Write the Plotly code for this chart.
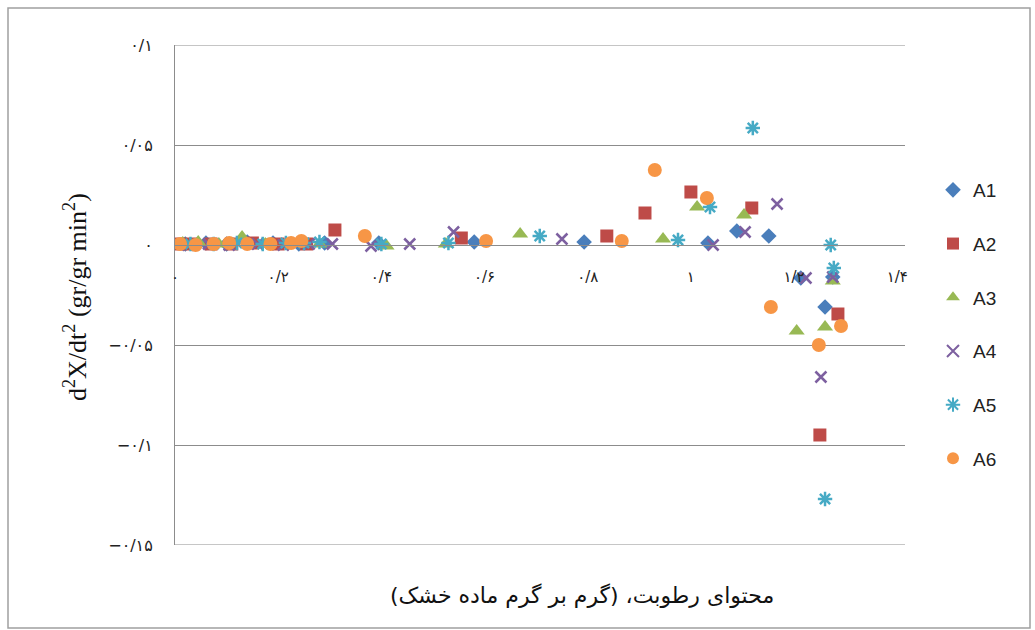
import plotly.graph_objects as go

# ---------------- data ----------------
series_names = ["A1", "A2", "A3", "A4", "A5", "A6"]

a1_x = [0.02, 0.06, 0.10, 0.14, 0.19, 0.24, 0.29, 0.395, 0.58, 0.793, 1.033, 1.089, 1.151, 1.213, 1.26, 1.275]
a1_y = [0.0005, 0.001, 0.0005, 0.0015, 0.001, 0.0005, 0.001, 0.001, 0.0015, 0.0015, 0.001, 0.007, 0.0045, -0.0165, -0.031, -0.016]

a2_x = [0.01, 0.035, 0.07, 0.11, 0.15, 0.2, 0.255, 0.31, 0.555, 0.837, 0.911, 1.0, 1.118, 1.25, 1.285]
a2_y = [0.0005, 0.0005, 0.0005, 0.0005, 0.001, 0.0005, 0.0005, 0.0075, 0.0035, 0.0045, 0.016, 0.0265, 0.0185, -0.095, -0.0345]

a3_x = [0.015, 0.045, 0.085, 0.13, 0.175, 0.225, 0.28, 0.41, 0.525, 0.669, 0.946, 1.012, 1.103, 1.205, 1.26, 1.275]
a3_y = [0.001, 0.0015, 0.0005, 0.004, 0.0005, 0.001, 0.0005, -0.0005, 0.0005, 0.0055, 0.003, 0.019, 0.015, -0.043, -0.041, -0.018]

a4_x = [0.025, 0.065, 0.105, 0.16, 0.21, 0.26, 0.305, 0.38, 0.455, 0.54, 0.75, 1.043, 1.105, 1.167, 1.223, 1.275, 1.252]
a4_y = [0.0, 0.0005, 0.0, 0.0005, 0.0, 0.0005, 0.0005, -0.0005, 0.0005, 0.0065, 0.003, 0.0, 0.0065, 0.0205, -0.0165, -0.016, -0.066]

a5_x = [0.03, 0.075, 0.12, 0.17, 0.215, 0.25, 0.28, 0.4, 0.53, 0.707, 0.975, 1.037, 1.12, 1.271, 1.277, 1.26]
a5_y = [0.0005, 0.0005, 0.001, 0.0005, 0.001, 0.001, 0.0015, 0.0005, 0.001, 0.0045, 0.0025, 0.019, 0.0585, 0.0, -0.0115, -0.127]

a6_x = [0.01, 0.04, 0.075, 0.105, 0.14, 0.185, 0.225, 0.245, 0.368, 0.603, 0.866, 0.93, 1.031, 1.155, 1.248, 1.291]
a6_y = [0.0005, 0.0, 0.0005, 0.001, 0.0005, 0.0005, 0.001, 0.002, 0.0045, 0.002, 0.002, 0.0375, 0.0235, -0.031, -0.05, -0.0405]

x_tick_vals = [0, 0.2, 0.4, 0.6, 0.8, 1.0, 1.2, 1.4]
x_tick_text = ["۰", "۰/۲", "۰/۴", "۰/۶", "۰/۸", "۱", "۱/۲", "۱/۴"]
y_tick_vals = [0.1, 0.05, 0, -0.05, -0.1, -0.15]
y_tick_text = ["۰/۱", "۰/۰۵", "۰", "−۰/۰۵", "−۰/۱", "−۰/۱۵"]

# RLM marks keep the whole title in one right-to-left run
x_title = "\u200fمحتوای رطوبت، (گرم بر گرم ماده خشک)\u200f"
y_title = "d<sup>2</sup>X/dt<sup>2</sup> (gr/gr min<sup>2</sup>)"

# ---------------- style ----------------
colors = ["#4A7EBB", "#BE4B48", "#98B954", "#7D60A0", "#46AAC5", "#F79646"]
symbols = ["diamond", "square", "triangle-up", "x-thin", "asterisk", "circle"]
sizes = [12, 13, 14, 11, 12, 14]
xs = [a1_x, a2_x, a3_x, a4_x, a5_x, a6_x]
ys = [a1_y, a2_y, a3_y, a4_y, a5_y, a6_y]

W, H = 1035, 630
L, R, T, B = 175, 130, 45, 85
pw, ph = W - L - R, H - T - B


def px2paper_x(p):
    return (p - L) / pw


def px2paper_y(p):
    return (H - B - p) / ph


fig = go.Figure()
for name, x, y, c, s, sz in zip(series_names, xs, ys, colors, symbols, sizes):
    line_open = s in ("x-thin", "asterisk")
    fig.add_trace(go.Scatter(
        x=x, y=y, mode="markers", name=name, legendgroup=name,
        marker=dict(
            symbol=s, size=sz, color=c,
            line=dict(color=c, width=2.5 if line_open else 0),
        ),
    ))

grid = "#8C8C8C"
y_min, y_max = y_tick_vals[-1], y_tick_vals[0]
fig.update_layout(
    width=W, height=H,
    margin=dict(l=L, r=R, t=T, b=B, autoexpand=False),
    paper_bgcolor="white", plot_bgcolor="white",
    showlegend=True,
    legend=dict(
        x=px2paper_x(933), y=px2paper_y(171), xanchor="left", yanchor="top",
        font=dict(family="Liberation Sans", size=19, color="#222222"),
        tracegroupgap=26, bgcolor="rgba(0,0,0,0)", itemsizing="constant",
    ),
    xaxis=dict(
        range=[0, 1.415], domain=[0, 1], anchor="free", position=0.6,
        showgrid=False, zeroline=False,
        showline=True, linecolor=grid, linewidth=1,
        tickmode="array", tickvals=x_tick_vals, ticktext=x_tick_text,
        ticks="outside", ticklen=18, tickcolor="rgba(0,0,0,0)",
        tickfont=dict(family="DejaVu Sans", size=15, color="#222222"),
    ),
    yaxis=dict(
        range=[y_min, y_max], domain=[0, 1], anchor="x",
        showgrid=True, gridcolor=grid, gridwidth=1, zeroline=False,
        showline=True, linecolor=grid, linewidth=1,
        tickmode="array", tickvals=y_tick_vals, ticktext=y_tick_text,
        ticks="outside", ticklen=18, tickcolor="rgba(0,0,0,0)",
        tickfont=dict(family="DejaVu Sans", size=16, color="#222222"),
    ),
    shapes=[
        dict(type="rect", xref="paper", yref="paper",
             x0=px2paper_x(8), x1=px2paper_x(1030),
             y0=px2paper_y(628), y1=px2paper_y(8),
             line=dict(color="#A0A0A0", width=1.5), fillcolor="rgba(0,0,0,0)"),
        dict(type="line", xref="paper", yref="y", x0=0, x1=1, y0=y_max, y1=y_max,
             line=dict(color=grid, width=1), layer="below"),
        dict(type="line", xref="paper", yref="y", x0=0, x1=1, y0=y_min, y1=y_min,
             line=dict(color=grid, width=1), layer="below"),
    ],
    annotations=[
        dict(text=y_title, xref="paper", yref="paper",
             x=px2paper_x(75), y=px2paper_y(297), textangle=-90,
             showarrow=False, xanchor="center", yanchor="middle",
             font=dict(family="Liberation Serif", size=26, color="#111111")),
        dict(text=x_title, xref="paper", yref="paper",
             x=px2paper_x(582), y=px2paper_y(595),
             showarrow=False, xanchor="center", yanchor="middle",
             font=dict(family="DejaVu Sans", size=22, color="#111111")),
    ],
)

fig.write_html("out.html", config={"displayModeBar": False},
               post_script="document.body.style.margin='0px';")
